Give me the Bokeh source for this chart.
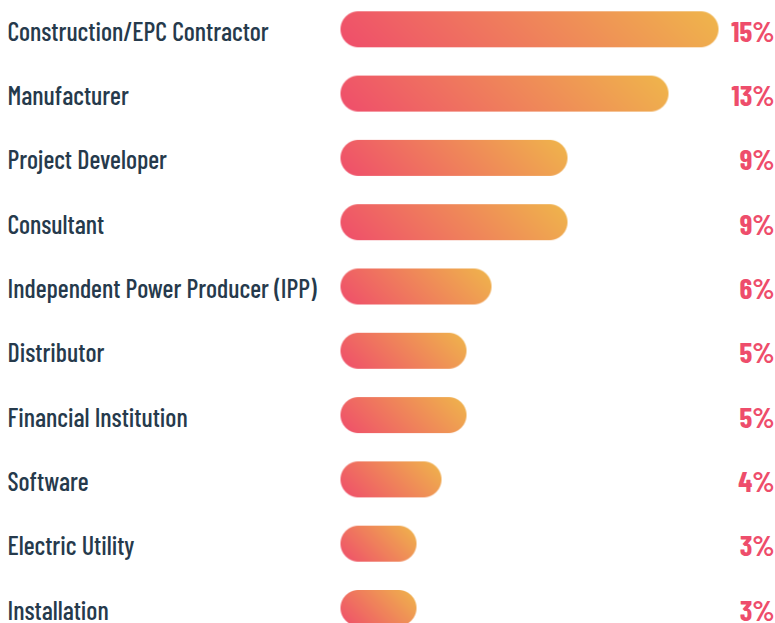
import numpy as np
from bokeh.plotting import figure
from bokeh.models import Range1d, ColumnDataSource
from bokeh.core.properties import value
from bokeh.embed import file_html
from bokeh.resources import INLINE

categories = ["Construction/EPC Contractor", "Manufacturer", "Project Developer", "Consultant",
              "Independent Power Producer (IPP)", "Distributor", "Financial Institution",
              "Software", "Electric Utility", "Installation"]
values = [15, 13, 9, 9, 6, 5, 5, 4, 3, 3]
pct_labels = [f"{v}%" for v in values]

# layout constants
W, H = 775, 623
X_PX = 25.2          # pixels per percent
Y_PX = 64.3          # pixels per row
BAR_PX = 36          # bar thickness in pixels
BAR_LEFT = 340       # pixels from figure left to bar start
ROW0_TOP = 28.8      # pixels from figure top to first row centre

n = len(categories)
x_start = -BAR_LEFT / X_PX
x_end = x_start + W / X_PX
y_end = (n - 1) + ROW0_TOP / Y_PX
y_start = y_end - H / Y_PX

p = figure(width=W, height=H, output_backend="svg", toolbar_location=None,
           x_range=Range1d(x_start, x_end), y_range=Range1d(y_start, y_end),
           min_border=0, min_border_left=0, min_border_right=0,
           min_border_top=0, min_border_bottom=0)
p.axis.visible = False
p.grid.visible = False
p.outline_line_color = None
p.background_fill_color = "white"
p.border_fill_color = "white"

c0 = np.array([239, 77, 107], dtype=float)   # pink (bottom-left)
c1 = np.array([239, 182, 75], dtype=float)   # orange (top-right)

ys = [n - 1 - i for i in range(n)]
dh = BAR_PX / Y_PX
imgs, xs, yb, dws = [], [], [], []
for v, yc in zip(values, ys):
    wpx = int(round(v * X_PX))
    hpx = BAR_PX
    img = np.zeros((hpx, wpx), dtype=np.uint32)
    view = img.view(dtype=np.uint8).reshape((hpx, wpx, 4))
    px = np.arange(wpx) + 0.5
    py = np.arange(hpx) + 0.5
    X, Y = np.meshgrid(px, py)
    t = (X + Y) / (wpx + hpx)
    r = hpx / 2.0
    cx = np.clip(X, r, wpx - r)
    d = np.sqrt((X - cx) ** 2 + (Y - r) ** 2)
    alpha = np.clip(r - d + 0.5, 0, 1)
    for k in range(3):
        view[:, :, k] = np.round(c0[k] + (c1[k] - c0[k]) * t).astype(np.uint8)
    view[:, :, 3] = np.round(alpha * 255).astype(np.uint8)
    imgs.append(img)
    xs.append(0)
    yb.append(yc - dh / 2)
    dws.append(wpx / X_PX)

p.image_rgba(image=imgs, x=xs, y=yb, dw=dws, dh=[dh] * n)

src = ColumnDataSource(dict(y=ys, cat=categories, pct=pct_labels,
                            xl=[x_start] * n, xr=[x_end] * n))
p.text(x="xl", y="y", text="cat", source=src, text_align="left", text_baseline="alphabetic",
       text_font=value("Barlow Condensed Medium, Barlow Condensed"), text_font_size="26px",
       text_color="#263a4c", x_offset=7, y_offset=1)
p.text(x="xr", y="y", text="pct", source=src, text_align="right", text_baseline="alphabetic",
       text_font=value("Barlow Condensed"), text_font_size="29px", text_font_style="bold",
       text_color="#ee4d6b", x_offset=-1, y_offset=1)

open("out.html", "w").write(file_html(p, INLINE))
